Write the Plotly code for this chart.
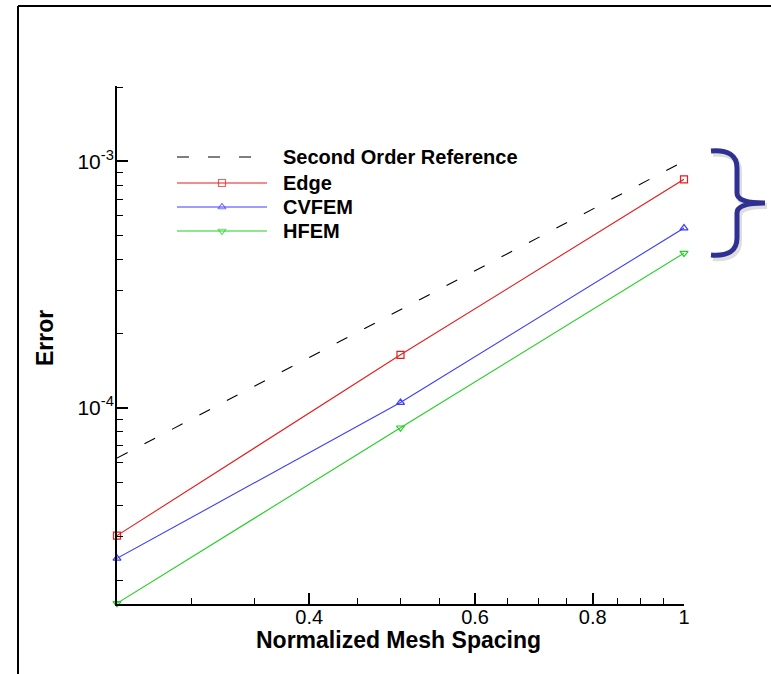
import math
import plotly.graph_objects as go

# ---------------- data ----------------
mesh_spacing = [0.25, 0.5, 1.0]
second_order_ref = [6.25e-5, 2.5e-4, 1.0e-3]
edge_err = [3.03e-5, 1.64e-4, 8.45e-4]
cvfem_err = [2.45e-5, 1.05e-4, 5.36e-4]
hfem_err = [1.61e-5, 8.3e-5, 4.24e-4]

series_names = ["Second Order Reference", "Edge", "CVFEM", "HFEM"]
x_major_ticks = [0.4, 0.6, 0.8, 1.0]
x_tick_labels = ["0.4", "0.6", "0.8", "1"]
x_minor_ticks = [0.25, 0.3, 0.35, 0.45, 0.5, 0.55, 0.65, 0.7, 0.75, 0.85, 0.9, 0.95]
y_major_ticks = [1e-4, 1e-3]
y_tick_labels = ["10<sup>-4</sup>", "10<sup>-3</sup>"]
y_minor_ticks = [k * 1e-5 for k in range(2, 10)] + [k * 1e-4 for k in range(2, 10)] + [2e-3]

# ---------------- layout constants ----------------
W, H = 771, 674
L, R, T, B = 117, 684, 86, 604   # plot area in pixels
FONT = "Liberation Sans, Arial, Helvetica, sans-serif"

RED = "#e81c1c"
BLUE = "#3c3cff"
GREEN = "#22d022"
NAVY = "#2e3192"


def px(xp):
    return (xp - L) / (R - L)


def py(yp):
    return (B - yp) / (B - T)


fig = go.Figure()

styles = [
    dict(color="black", dash="12px,19px", symbol=None),
    dict(color=RED, dash="solid", symbol="square-open"),
    dict(color=BLUE, dash="solid", symbol="triangle-up-open"),
    dict(color=GREEN, dash="solid", symbol="triangle-down-open"),
]
values = [second_order_ref, edge_err, cvfem_err, hfem_err]

for name, vals, st in zip(series_names, values, styles):
    fig.add_trace(go.Scatter(
        x=mesh_spacing, y=vals, name=name,
        mode="lines" if st["symbol"] is None else "lines+markers",
        line=dict(color=st["color"], width=1.1, dash=st["dash"]),
        marker=dict(symbol=st["symbol"] or "circle", size=7,
                    line=dict(color=st["color"], width=1.2)),
        cliponaxis=False, showlegend=False,
    ))

# ---------------- hand-drawn legend on an overlay pixel axis ----------------
leg_rows = [157, 183, 207, 231]
leg_x0, leg_xm, leg_x1, leg_text_x = 177, 222, 267, 281
for name, st, yrow in zip(series_names, styles, leg_rows):
    fig.add_trace(go.Scatter(
        x=[leg_x0, leg_xm, leg_x1], y=[yrow, yrow, yrow],
        xaxis="x2", yaxis="y2",
        mode="lines" if st["symbol"] is None else "lines+markers",
        line=dict(color=st["color"], width=1.1, dash=st["dash"]),
        marker=dict(symbol=st["symbol"] or "circle", size=[0, 7, 0],
                    line=dict(color=st["color"], width=1.2)),
        showlegend=False, hoverinfo="skip",
    ))
    fig.add_annotation(x=leg_text_x, y=yrow, xref="x2", yref="y2",
                       text="<b>%s</b>" % name, showarrow=False,
                       xanchor="left", yanchor="middle",
                       font=dict(family=FONT, size=20, color="black"))

axis_common = dict(showgrid=False, zeroline=False, showline=True,
                   linecolor="black", linewidth=2, ticks="inside",
                   tickcolor="black", tickwidth=1.5, ticklen=11)

fig.update_layout(
    width=W, height=H,
    margin=dict(l=L, r=W - R, t=T, b=H - B, autoexpand=False),
    paper_bgcolor="white", plot_bgcolor="white",
    showlegend=False,
    xaxis=dict(type="log", range=[math.log10(0.25), 0.0],
               tickmode="array", tickvals=x_major_ticks, ticktext=x_tick_labels,
               minor=dict(tickmode="array", tickvals=x_minor_ticks, ticks="inside",
                          ticklen=6, tickwidth=1.2, tickcolor="black"),
               ticklabelstandoff=-6,
               tickfont=dict(family=FONT, size=20, color="black"),
               **axis_common),
    yaxis=dict(type="log", range=[math.log10(1.6e-5), math.log10(2.02e-3)],
               tickmode="array", tickvals=y_major_ticks, ticktext=y_tick_labels,
               minor=dict(tickmode="array", tickvals=y_minor_ticks, ticks="inside",
                          ticklen=6, tickwidth=1.2, tickcolor="black"),
               ticklabelstandoff=-3,
               tickfont=dict(family=FONT, size=21, color="black"),
               **axis_common),
    xaxis2=dict(overlaying="x", range=[L, R], visible=False, fixedrange=True),
    yaxis2=dict(overlaying="y", range=[B, T], visible=False, fixedrange=True),
)

# axis titles
fig.add_annotation(x=px(398.5), y=py(640), xref="paper", yref="paper",
                   text="<b>Normalized Mesh Spacing</b>", showarrow=False,
                   xanchor="center", yanchor="middle", borderpad=0,
                   font=dict(family=FONT, size=23, color="black"))
fig.add_annotation(x=px(45), y=py(338), xref="paper", yref="paper",
                   text="<b>Error</b>", showarrow=False, textangle=-90,
                   xanchor="center", yanchor="middle",
                   font=dict(family=FONT, size=23, color="black"))

# outer frame (left and top edges)
fig.add_shape(type="line", xref="paper", yref="paper",
              x0=px(18), x1=px(18), y0=py(6), y1=py(H + 2),
              line=dict(color="black", width=2))
fig.add_shape(type="line", xref="paper", yref="paper",
              x0=px(18), x1=px(W + 2), y0=py(6), y1=py(6),
              line=dict(color="black", width=2))


# curly brace on the right
def brace_path(dx=0.0, dy=0.0):
    pts = [("M", [(711, 151)]),
           ("Q", [(737, 149), (737, 168)]),
           ("L", [(737, 193)]),
           ("Q", [(737, 203), (765, 203)]),
           ("Q", [(737, 203), (737, 213)]),
           ("L", [(737, 238)]),
           ("Q", [(737, 257), (711, 255)])]
    out = []
    for cmd, coords in pts:
        out.append(cmd + " ".join("%.5f,%.5f" % (px(a + dx), py(b + dy)) for a, b in coords))
    return " ".join(out)


fig.add_shape(type="path", xref="paper", yref="paper", path=brace_path(2, 3),
              line=dict(color="rgba(0,0,0,0.13)", width=6))
fig.add_shape(type="path", xref="paper", yref="paper", path=brace_path(),
              line=dict(color=NAVY, width=5))

fig.write_html("out.html")
